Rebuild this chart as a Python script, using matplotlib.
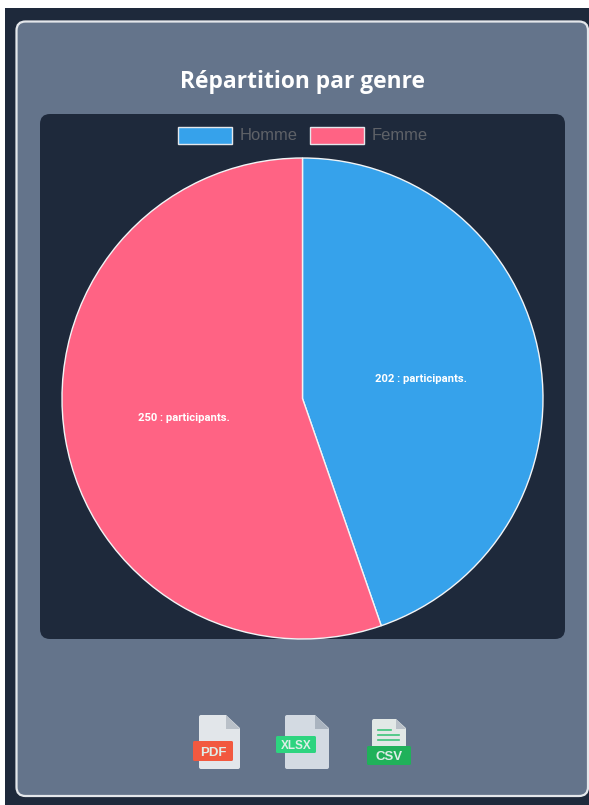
import numpy as np
import matplotlib
matplotlib.use("Agg")
import matplotlib.pyplot as plt
from matplotlib.patches import FancyBboxPatch, Polygon, Rectangle

# chart data
genres = ["Homme", "Femme"]
participants = [202, 250]
colors = ["#36a2eb", "#ff6384"]
title = "Répartition par genre"

W, H = 589, 805
DARK = "#1e293b"
CARD = "#64748b"


def Y(py):
    # screenshot pixels are measured from the top
    return H - py


def box(ax, x0, y0, x1, y1, color, r=2, ec="none", lw=0, z=2):
    p = FancyBboxPatch((x0, Y(y1)), x1 - x0, y1 - y0,
                       boxstyle=f"round,pad=0,rounding_size={r}",
                       fc=color, ec=ec, lw=lw, zorder=z)
    ax.add_patch(p)


def doc_icon(ax, x0, y0, x1, y1, fold, color, fold_color, r=2):
    box(ax, x0, y0, x1, y1, color, r=r, z=3)
    # cut the corner, then draw the folded flap
    ax.add_patch(Polygon([(x1 - fold, Y(y0)), (x1 + 1, Y(y0)), (x1 + 1, Y(y0 + fold))],
                         fc=CARD, ec="none", zorder=4))
    ax.add_patch(Polygon([(x1 - fold, Y(y0)), (x1, Y(y0 + fold)), (x1 - fold, Y(y0 + fold))],
                         fc=fold_color, ec="none", zorder=4))


def badge(ax, x0, y0, x1, y1, color, label, size):
    box(ax, x0, y0, x1, y1, color, r=1.5, z=5)
    ax.text((x0 + x1) / 2, Y((y0 + y1) / 2), label, color="#dfeee8", fontsize=size,
            family="Liberation Sans", fontweight="bold",
            ha="center", va="center_baseline", zorder=6)


fig = plt.figure(figsize=(W / 100, H / 100), dpi=100, facecolor="white")
ax = fig.add_axes([0, 0, 1, 1])

# page + card + chart panel
ax.add_patch(Rectangle((5, 0), W - 5, H - 8, fc=DARK, ec="none", zorder=0))
box(ax, 16.5, 21.5, 588, 796, CARD, r=9, ec="#e4e7eb", lw=1.6, z=1)
box(ax, 40, 114, 565, 639, DARK, r=10, z=2)

ax.text(302.5, Y(81.5), title, color="white", fontsize=16.4, fontweight="bold",
        family="Open Sans", ha="center", va="center", zorder=3)

# legend
legend_x = [178, 310]
for x, g, c in zip(legend_x, genres, colors):
    ax.add_patch(Rectangle((x, Y(144)), 54, 17, fc=c, ec="#e4e7eb", lw=1, zorder=3))
    ax.text(x + 62, Y(135), g, color="#5f6268", fontsize=11.9, family="Liberation Sans",
            ha="left", va="center", zorder=3)

# pie, clockwise from 12 o'clock
cx, cy, radius = 302.5, 398.5, 240.5
wedges, _ = ax.pie(participants, colors=colors, startangle=90, counterclock=False,
                   center=(cx, Y(cy)), radius=radius, frame=True,
                   wedgeprops=dict(edgecolor="#f2f4f6", linewidth=1.0, zorder=3))

# value labels at half radius along each slice's middle angle
total = sum(participants)
start = 0
for v in participants:
    mid = np.radians(start + v / total * 360 / 2)
    ax.text(cx + radius / 2 * np.sin(mid), Y(cy) + radius / 2 * np.cos(mid),
            f"{v} : participants.", color="white", fontsize=8.1, fontweight="bold",
            family="Roboto", ha="center", va="center", zorder=5)
    start += v / total * 360

# export icons
doc_icon(ax, 199, 715, 240, 769, 14, "#e2e6ea", "#b9c0c8")
badge(ax, 193, 741, 233, 761, "#f2593f", "PDF", 9.5)

doc_icon(ax, 285, 715, 329, 769, 14, "#d3dae2", "#a9b3bf")
badge(ax, 276, 736, 316, 753, "#2dd47f", "XLSX", 8.5)

doc_icon(ax, 372, 719, 406, 748, 10, "#e2e8e6", "#b9c0c8")
for y0, x1 in [(730, 391), (735, 399), (740, 399)]:
    ax.plot([378, x1], [Y(y0), Y(y0)], color="#3cc47a", lw=1.2, zorder=5)
badge(ax, 367, 746, 411, 765, "#20b15a", "CSV", 9.5)

ax.set_xlim(0, W)
ax.set_ylim(0, H)
ax.set_aspect("equal")
ax.axis("off")

fig.savefig("out.png", dpi=100, facecolor="white")
